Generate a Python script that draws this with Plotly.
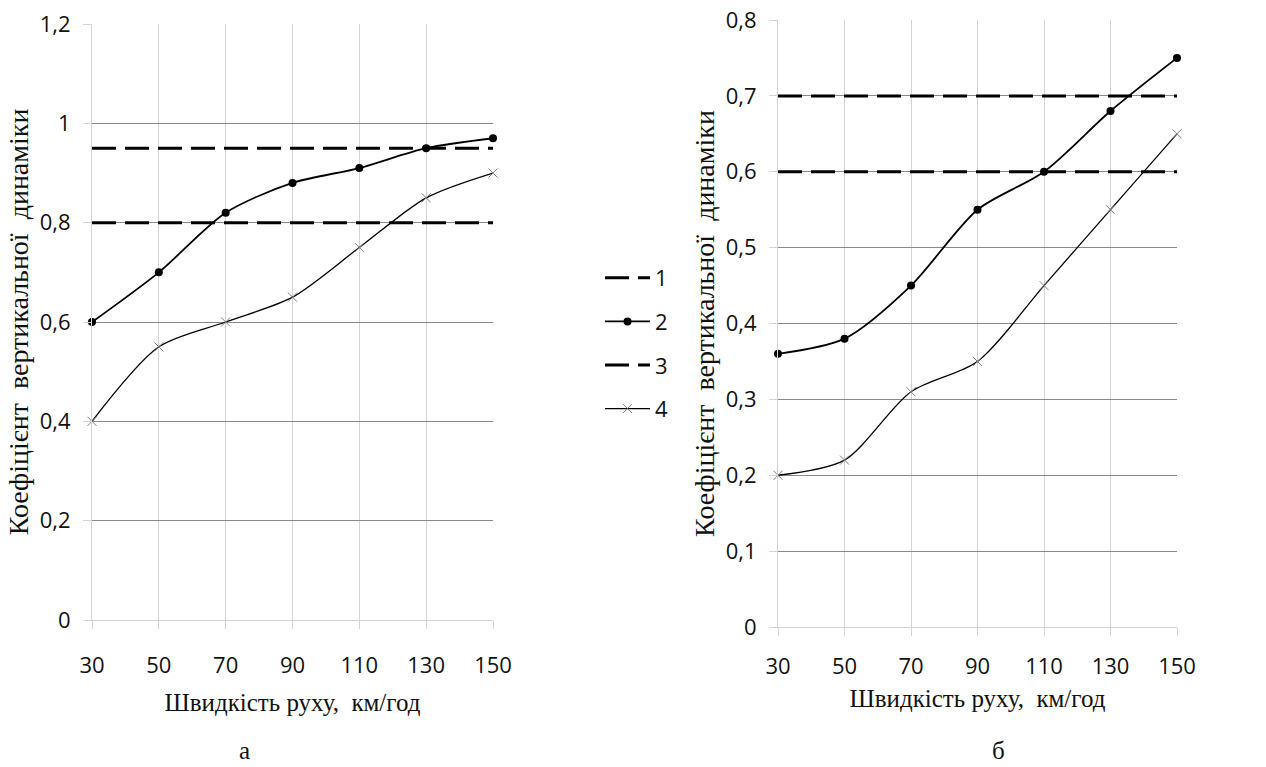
import copy
import plotly.graph_objects as go

# ---------------- data ----------------
speed = [30, 50, 70, 90, 110, 130, 150]

# panel "а"
a_level1 = [0.95] * 7
a_series2 = [0.60, 0.70, 0.82, 0.88, 0.91, 0.95, 0.97]
a_level3 = [0.80] * 7
a_series4 = [0.40, 0.55, 0.60, 0.65, 0.75, 0.85, 0.90]

# panel "б"
b_level1 = [0.70] * 7
b_series2 = [0.36, 0.38, 0.45, 0.55, 0.60, 0.68, 0.75]
b_level3 = [0.60] * 7
b_series4 = [0.20, 0.22, 0.31, 0.35, 0.45, 0.55, 0.65]

legend_names = ["1", "2", "3", "4"]
x_ticks = [30, 50, 70, 90, 110, 130, 150]
x_ticktext = ["30", "50", "70", "90", "110", "130", "150"]
a_yticks = [0, 0.2, 0.4, 0.6, 0.8, 1.0, 1.2]
a_yticktext = ["0", "0,2", "0,4", "0,6", "0,8", "1", "1,2"]
b_yticks = [0, 0.1, 0.2, 0.3, 0.4, 0.5, 0.6, 0.7, 0.8]
b_yticktext = ["0", "0,1", "0,2", "0,3", "0,4", "0,5", "0,6", "0,7", "0,8"]

x_title = "Швидкість руху,  км/год"
y_title = "Коефіцієнт  вертикальної  динаміки"

W, H = 1266, 767
SANS = "Open Sans"
SERIF = "Liberation Serif"

fig = go.Figure()

dash_style = "24px,9px"


def add_panel(xa, ya, lvl1, s2, lvl3, s4, show):
    fig.add_trace(go.Scatter(x=speed, y=lvl1, mode="lines", name=legend_names[0],
                             line=dict(color="black", width=3, dash=dash_style),
                             xaxis=xa, yaxis=ya, showlegend=show, legendgroup="g1",
                             cliponaxis=False))
    fig.add_trace(go.Scatter(x=speed, y=s2, mode="lines+markers", name=legend_names[1],
                             line=dict(color="black", width=1.8, shape="spline", smoothing=0.8),
                             marker=dict(symbol="circle", size=8, color="black"),
                             xaxis=xa, yaxis=ya, showlegend=show, legendgroup="g2",
                             cliponaxis=False))
    fig.add_trace(go.Scatter(x=speed, y=lvl3, mode="lines", name=legend_names[2],
                             line=dict(color="black", width=3, dash=dash_style),
                             xaxis=xa, yaxis=ya, showlegend=show, legendgroup="g3",
                             cliponaxis=False))
    fig.add_trace(go.Scatter(x=speed, y=s4, mode="lines+markers", name=legend_names[3],
                             line=dict(color="black", width=1.3, shape="spline", smoothing=0.8),
                             marker=dict(symbol="x-thin", size=9, color="#808080",
                                         line=dict(color="#808080", width=1)),
                             xaxis=xa, yaxis=ya, showlegend=show, legendgroup="g4",
                             cliponaxis=False))


add_panel("x", "y", a_level1, a_series2, a_level3, a_series4, True)
add_panel("x2", "y2", b_level1, b_series2, b_level3, b_series4, False)


def xaxis_style(label_standoff, title_standoff):
    return dict(range=[30, 150], tickvals=x_ticks, ticktext=x_ticktext,
                showgrid=True, gridcolor="#d4d4d4", gridwidth=1,
                showline=True, linecolor="#d4d4d4", linewidth=1,
                ticks="outside", ticklen=8, tickcolor="#d4d4d4",
                zeroline=False, tickfont=dict(family=SANS, size=22, color="#111"),
                ticklabelstandoff=label_standoff, automargin=False,
                title=dict(text=x_title, font=dict(family=SERIF, size=25, color="#111"),
                           standoff=title_standoff))


def yaxis_style(title_standoff):
    return dict(showgrid=True, gridcolor="#8a8a8a", gridwidth=1,
                showline=True, linecolor="#d4d4d4", linewidth=1,
                ticks="outside", ticklen=8, tickcolor="#d4d4d4",
                zeroline=False, tickfont=dict(family=SANS, size=22, color="#111"),
                ticklabelstandoff=8, automargin=False,
                title=dict(text=y_title, font=dict(family=SERIF, size=28, color="#111"),
                           standoff=title_standoff))


fig.update_layout(
    width=W, height=H,
    margin=dict(l=0, r=0, t=0, b=0, autoexpand=False),
    paper_bgcolor="white", plot_bgcolor="white",
    xaxis=dict(domain=[92 / W, 493 / W], anchor="y", **xaxis_style(18, 15)),
    yaxis=dict(domain=[(H - 620) / H, (H - 24) / H], anchor="x", range=[0, 1.2],
               tickvals=a_yticks, ticktext=a_yticktext, **yaxis_style(2)),
    xaxis2=dict(domain=[778 / W, 1177 / W], anchor="y2", **xaxis_style(12, 10)),
    yaxis2=dict(domain=[(H - 627) / H, (H - 20) / H], anchor="x2", range=[0, 0.8],
                tickvals=b_yticks, ticktext=b_yticktext, **yaxis_style(2)),
    legend=dict(x=600 / W, y=(H - 257) / H, xanchor="left", yanchor="top",
                font=dict(family=SANS, size=22, color="#111"),
                bgcolor="rgba(0,0,0,0)", itemwidth=45, tracegroupgap=12,
                traceorder="grouped"),
    showlegend=True,
    annotations=[
        dict(text="а", x=244 / W, y=(H - 750) / H, xref="paper", yref="paper",
             showarrow=False, font=dict(family=SERIF, size=25, color="#111"),
             xanchor="center", yanchor="middle"),
        dict(text="б", x=998 / W, y=(H - 750) / H, xref="paper", yref="paper",
             showarrow=False, font=dict(family=SERIF, size=25, color="#111"),
             xanchor="center", yanchor="middle"),
    ],
)

fig.write_html("out.html")
